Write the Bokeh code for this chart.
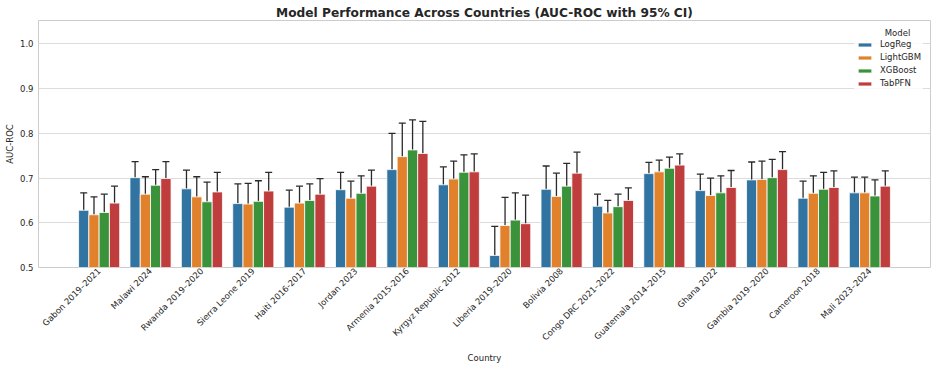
import math
from bokeh.plotting import figure
from bokeh.models import (ColumnDataSource, FactorRange, Range1d, FixedTicker, Whisker,
                          TeeHead, Legend, LegendItem, Label, Title, PrintfTickFormatter)
from bokeh.transform import dodge
from bokeh.embed import file_html
from bokeh.resources import INLINE

countries = ["Gabon 2019–2021", "Malawi 2024", "Rwanda 2019–2020", "Sierra Leone 2019",
             "Haiti 2016-2017", "Jordan 2023", "Armenia 2015-2016", "Kyrgyz Republic 2012",
             "Liberia 2019–2020", "Bolivia 2008", "Congo DRC 2021–2022", "Guatemala 2014–2015",
             "Ghana 2022", "Gambia 2019–2020", "Cameroon 2018", "Mali 2023–2024"]

models = ["LogReg", "LightGBM", "XGBoost", "TabPFN"]

logreg_auc = [0.628, 0.701, 0.676, 0.643, 0.635, 0.674, 0.719, 0.685, 0.527, 0.675, 0.637, 0.710, 0.672, 0.696, 0.655, 0.667]
logreg_lo = [0.591, 0.665, 0.634, 0.597, 0.600, 0.638, 0.630, 0.646, 0.463, 0.624, 0.614, 0.687, 0.636, 0.656, 0.617, 0.633]
logreg_hi = [0.667, 0.737, 0.718, 0.687, 0.673, 0.713, 0.800, 0.725, 0.592, 0.727, 0.664, 0.735, 0.709, 0.736, 0.693, 0.702]

lightgbm_auc = [0.618, 0.664, 0.658, 0.642, 0.644, 0.655, 0.748, 0.698, 0.594, 0.659, 0.622, 0.714, 0.661, 0.697, 0.666, 0.667]
lightgbm_lo = [0.580, 0.626, 0.614, 0.594, 0.608, 0.616, 0.653, 0.660, 0.534, 0.606, 0.597, 0.690, 0.623, 0.656, 0.627, 0.633]
lightgbm_hi = [0.658, 0.703, 0.703, 0.688, 0.682, 0.693, 0.823, 0.738, 0.657, 0.711, 0.650, 0.740, 0.700, 0.738, 0.705, 0.702]

xgboost_auc = [0.623, 0.684, 0.647, 0.648, 0.650, 0.666, 0.763, 0.713, 0.606, 0.682, 0.636, 0.722, 0.667, 0.701, 0.675, 0.660]
xgboost_lo = [0.585, 0.647, 0.605, 0.604, 0.615, 0.627, 0.678, 0.675, 0.546, 0.631, 0.612, 0.699, 0.628, 0.661, 0.638, 0.626]
xgboost_hi = [0.664, 0.719, 0.691, 0.694, 0.687, 0.705, 0.830, 0.752, 0.667, 0.733, 0.664, 0.747, 0.705, 0.742, 0.713, 0.696]

tabpfn_auc = [0.644, 0.699, 0.669, 0.671, 0.664, 0.682, 0.755, 0.714, 0.598, 0.711, 0.650, 0.729, 0.679, 0.719, 0.679, 0.682]
tabpfn_lo = [0.607, 0.665, 0.624, 0.625, 0.628, 0.644, 0.674, 0.676, 0.538, 0.662, 0.626, 0.706, 0.641, 0.681, 0.638, 0.649]
tabpfn_hi = [0.682, 0.737, 0.713, 0.713, 0.699, 0.718, 0.827, 0.754, 0.662, 0.758, 0.678, 0.754, 0.717, 0.759, 0.716, 0.716]

y_ticks = [0.5, 0.6, 0.7, 0.8, 0.9, 1.0]

series = [
    (logreg_auc, logreg_lo, logreg_hi),
    (lightgbm_auc, lightgbm_lo, lightgbm_hi),
    (xgboost_auc, xgboost_lo, xgboost_hi),
    (tabpfn_auc, tabpfn_lo, tabpfn_hi),
]
colors = ["#3274a1", "#e1812c", "#3a923a", "#c03d3e"]
offsets = [-0.3, -0.1, 0.1, 0.3]
FONT = "DejaVu Sans"
TEXT = "#262626"
ERR = "#2a2a2a"

xr = FactorRange(*countries, range_padding=0.68, range_padding_units="absolute")
p = figure(width=937, height=371, x_range=xr, y_range=Range1d(0.5, 1.0525),
           output_backend="svg", toolbar_location=None,
           min_border_left=38, min_border_right=7, min_border_top=20, min_border_bottom=104)

p.title = Title(text="Model Performance Across Countries (AUC-ROC with 95% CI)",
                align="center", text_font=FONT, text_font_size="12.2px",
                text_font_style="bold", text_color=TEXT, standoff=2)
p.background_fill_color = "white"
p.border_fill_color = "white"
p.outline_line_color = "#cccccc"
p.outline_line_width = 1

legend_items = []
for name, (auc, lo, hi), col, off in zip(models, series, colors, offsets):
    src = ColumnDataSource(dict(country=countries, auc=auc, lo=lo, hi=hi))
    r = p.vbar(x=dodge("country", off, range=xr), top="auc", bottom=0.5, width=0.2,
               source=src, fill_color=col, line_color="white", line_width=0.8)
    legend_items.append(LegendItem(label=name, renderers=[r]))
    w = Whisker(base=dodge("country", off, range=xr), upper="hi", lower="lo", source=src,
                line_color=ERR, line_width=1.3,
                upper_head=TeeHead(size=7, line_color=ERR, line_width=1.3),
                lower_head=TeeHead(size=7, line_color=ERR, line_width=1.3))
    p.add_layout(w)

legend = Legend(items=legend_items, location=(816, 177), orientation="vertical",
                border_line_alpha=0, background_fill_alpha=0.8, padding=2, margin=0,
                spacing=3, glyph_width=17, glyph_height=5, label_height=10,
                label_standoff=7, label_text_font=FONT, label_text_font_size="8.5px",
                label_text_color=TEXT)
p.add_layout(legend)
# legend heading, centred over the legend entries
p.add_layout(Label(x=859, y=235, x_units="screen", y_units="screen", text="Model",
                   text_align="center", text_baseline="middle", text_font=FONT,
                   text_font_size="8.5px", text_color=TEXT, level="overlay"))

p.yaxis.ticker = FixedTicker(ticks=y_ticks)
p.yaxis.formatter = PrintfTickFormatter(format="%.1f")
p.yaxis.axis_label = "AUC-ROC"
p.xaxis.axis_label = "Country"

for ax in (p.xaxis, p.yaxis):
    ax.axis_line_color = None
    ax.major_tick_line_color = None
    ax.minor_tick_line_color = None
    ax.major_tick_out = 0
    ax.major_tick_in = 0
    ax.minor_tick_out = 0
    ax.minor_tick_in = 0
    ax.major_label_text_font = FONT
    ax.major_label_text_font_size = "8.5px"
    ax.major_label_text_color = TEXT
    ax.axis_label_text_font = FONT
    ax.axis_label_text_font_size = "8.5px"
    ax.axis_label_text_font_style = "normal"
    ax.axis_label_text_color = TEXT

p.xaxis.major_label_orientation = math.pi / 4
p.xaxis.major_label_standoff = 2
p.yaxis.major_label_standoff = 5
p.yaxis.axis_label_standoff = 2
p.xaxis.axis_label_standoff = 4

p.xgrid.grid_line_color = None
p.ygrid.grid_line_color = "#dcdcdc"
p.ygrid.grid_line_width = 1

open("out.html", "w").write(file_html(p, INLINE))
